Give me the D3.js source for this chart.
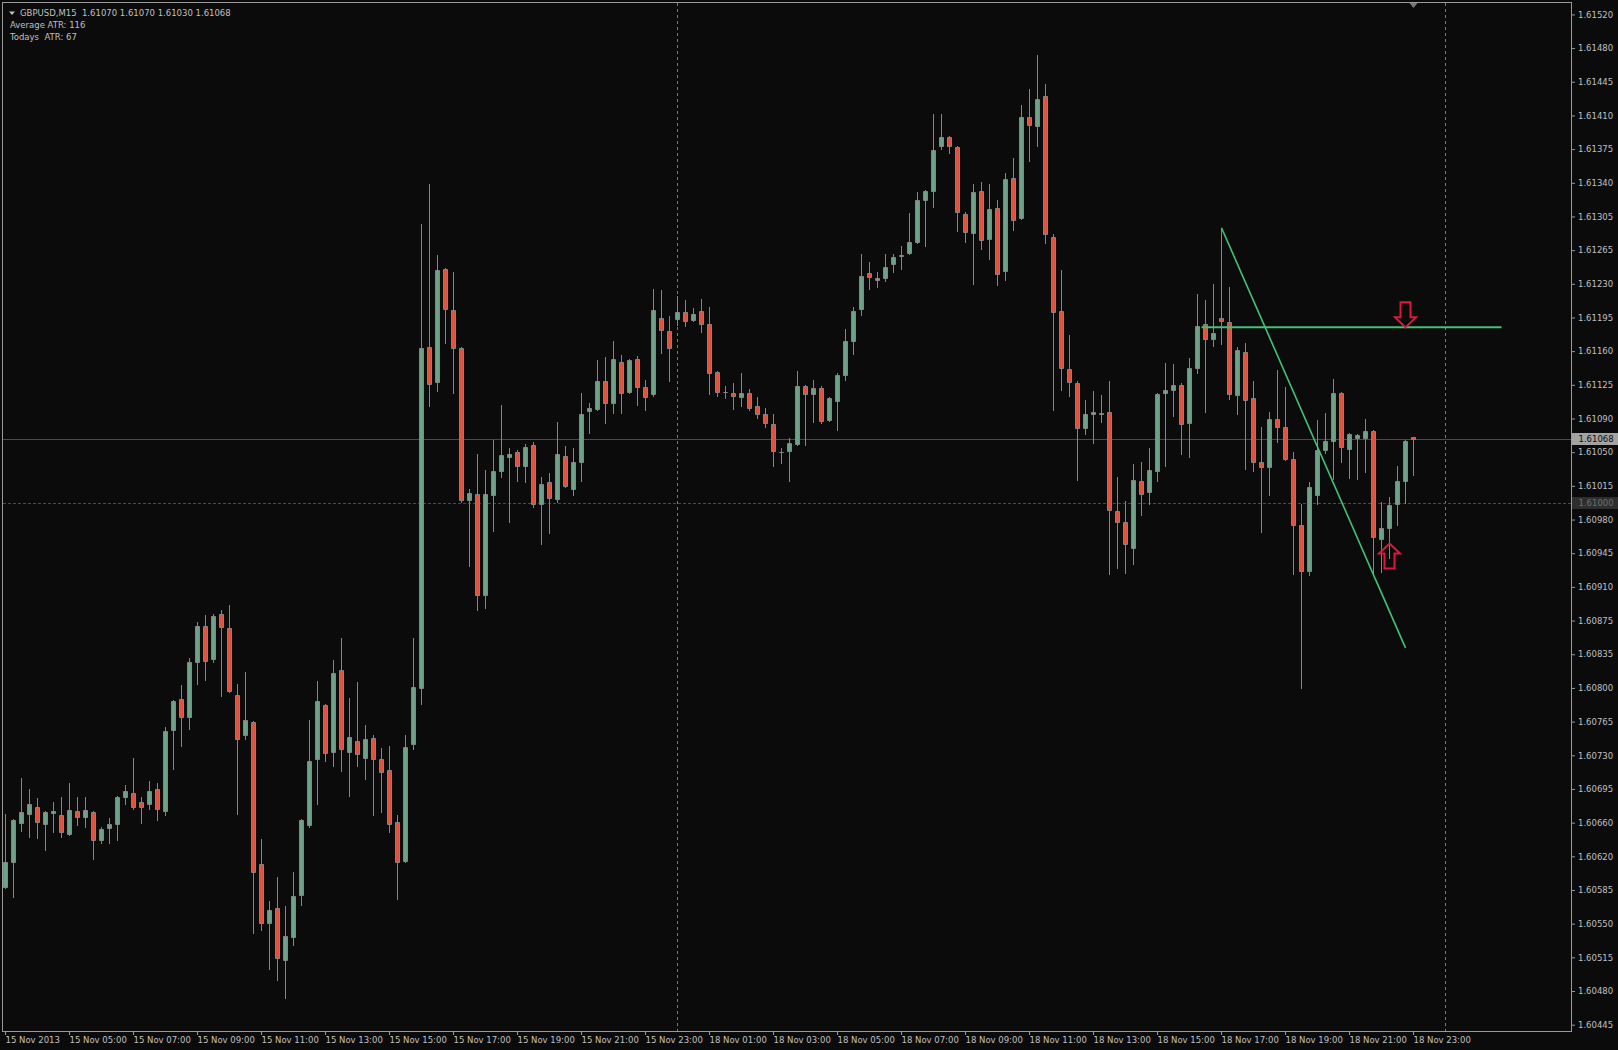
<!DOCTYPE html>
<html>
<head>
<meta charset="utf-8">
<script src="https://cdn.jsdelivr.net/npm/d3@7"></script>
<style>
  html, body { margin: 0; padding: 0; background: #0b0b0b; }
  svg { display: block; }
  text { font-family: "DejaVu Sans", sans-serif; font-size: 8.5px; fill: #c0c0c0; }
</style>
</head>
<body>
<div id="chart"></div>
<script>
/**
 * DATA
 * GBPUSD M15 bars, 15 Nov 2013 03:00 -> 18 Nov 2013 23:00 (weekend skipped)
 * */
const symbol = "GBPUSD,M15";

const open = [
  1.60592,1.60618,1.60660,1.60669,1.60677,1.60659,1.60670,1.60668,1.60648,1.60672,
  1.60666,1.60671,1.60641,1.60654,1.60659,1.60687,1.60692,1.60682,1.60680,1.60696,
  1.60672,1.60759,1.60792,1.60772,1.60831,1.60869,1.60834,1.60882,1.60867,1.60796,
  1.60753,1.60767,1.60616,1.60553,1.60569,1.60514,1.60538,1.60583,1.60657,1.60728,
  1.60785,1.60735,1.60822,1.60735,1.60747,1.60729,1.60750,1.60728,1.60716,1.60661,
  1.60619,1.60744,1.60803,1.61166,1.61129,1.61249,1.61206,1.61165,1.61003,1.61010,
  1.60902,1.61009,1.61034,1.61049,1.61054,1.61040,1.61062,1.60999,1.61022,1.61004,
  1.61050,1.61015,1.61044,1.61098,1.61100,1.61130,1.61106,1.61150,1.61118,1.61153,
  1.61124,1.61116,1.61197,1.61183,1.61196,1.61203,1.61195,1.61204,1.61191,1.61140,
  1.61118,1.61117,1.61113,1.61117,1.61103,1.61095,1.61084,1.61054,1.61055,1.61063,
  1.61125,1.61116,1.61123,1.61088,1.61109,1.61136,1.61173,1.61207,1.61245,1.61237,
  1.61240,1.61254,1.61263,1.61266,1.61278,1.61323,1.61332,1.61380,1.61390,1.61379,
  1.61308,1.61287,1.61332,1.61281,1.61314,1.61247,1.61346,1.61303,1.61411,1.61401,
  1.61433,1.61283,1.61204,1.61143,1.61128,1.61080,1.61095,1.61096,1.61097,1.60992,
  1.60980,1.60952,1.61024,1.61012,1.61034,1.61117,1.61120,1.61126,1.61085,1.61144,
  1.61191,1.61175,1.61197,1.61193,1.61115,1.61161,1.61112,1.61044,1.61038,1.61090,
  1.61081,1.61047,1.60977,1.60928,1.61009,1.61056,1.61066,1.61117,1.61058,1.61069,
  1.61069,1.61077,1.60962,1.60974,1.60999,1.61024,1.61070
];
const high = [
  1.60669,1.60664,1.60707,1.60696,1.60686,1.60672,1.60682,1.60687,1.60702,1.60687,
  1.60687,1.60672,1.60655,1.60665,1.60688,1.60700,1.60729,1.60687,1.60704,1.60702,
  1.60762,1.60790,1.60806,1.60835,1.60874,1.60881,1.60882,1.60886,1.60892,1.60808,
  1.60820,1.60768,1.60643,1.60577,1.60602,1.60571,1.60608,1.60664,1.60769,1.60811,
  1.60786,1.60833,1.60856,1.60793,1.60810,1.60764,1.60753,1.60739,1.60742,1.60668,
  1.60753,1.60856,1.61297,1.61340,1.61264,1.61250,1.61246,1.61166,1.61015,1.61052,
  1.61035,1.61067,1.61104,1.61059,1.61057,1.61063,1.61065,1.61028,1.61032,1.61086,
  1.61061,1.61059,1.61117,1.61107,1.61152,1.61155,1.61172,1.61158,1.61153,1.61157,
  1.61131,1.61228,1.61227,1.61199,1.61220,1.61216,1.61208,1.61217,1.61209,1.61141,
  1.61125,1.61128,1.61138,1.61121,1.61113,1.61101,1.61095,1.61059,1.61069,1.61141,
  1.61126,1.61131,1.61125,1.61113,1.61138,1.61185,1.61209,1.61265,1.61257,1.61246,
  1.61265,1.61265,1.61274,1.61309,1.61331,1.61333,1.61414,1.61414,1.61391,1.61380,
  1.61310,1.61340,1.61342,1.61340,1.61323,1.61351,1.61367,1.61424,1.61441,1.61477,
  1.61446,1.61286,1.61248,1.61179,1.61130,1.61110,1.61119,1.61115,1.61130,1.61028,
  1.61002,1.61042,1.61044,1.61059,1.61117,1.61149,1.61148,1.61128,1.61154,1.61223,
  1.61216,1.61233,1.61293,1.61230,1.61166,1.61170,1.61130,1.61081,1.61097,1.61142,
  1.61124,1.61054,1.60999,1.61022,1.61088,1.61096,1.61132,1.61118,1.61075,1.61074,
  1.61090,1.61078,1.61001,1.61007,1.61040,1.61067,1.61070
];
const low = [
  1.60590,1.60581,1.60651,1.60645,1.60644,1.60631,1.60650,1.60645,1.60647,1.60658,
  1.60655,1.60621,1.60638,1.60638,1.60642,1.60680,1.60675,1.60660,1.60674,1.60663,
  1.60668,1.60717,1.60742,1.60760,1.60807,1.60812,1.60831,1.60795,1.60799,1.60669,
  1.60749,1.60543,1.60546,1.60504,1.60493,1.60473,1.60530,1.60572,1.60655,1.60680,
  1.60726,1.60720,1.60715,1.60688,1.60720,1.60706,1.60668,1.60671,1.60650,1.60579,
  1.60618,1.60738,1.60786,1.61103,1.61119,1.61170,1.61117,1.61001,1.60933,1.60886,
  1.60888,1.60970,1.61028,1.60980,1.61024,1.61022,1.60996,1.60957,1.60968,1.61001,
  1.61017,1.61009,1.61023,1.61075,1.61099,1.61085,1.61096,1.61096,1.61117,1.61104,
  1.61099,1.61114,1.61160,1.61130,1.61190,1.61188,1.61194,1.61182,1.61116,1.61114,
  1.61112,1.61100,1.61103,1.61099,1.61091,1.61081,1.61039,1.61043,1.61024,1.61062,
  1.61062,1.61086,1.61085,1.61087,1.61078,1.61131,1.61159,1.61200,1.61228,1.61230,
  1.61236,1.61246,1.61249,1.61265,1.61277,1.61274,1.61315,1.61377,1.61373,1.61290,
  1.61278,1.61233,1.61270,1.61260,1.61232,1.61237,1.61291,1.61302,1.61364,1.61380,
  1.61277,1.61099,1.61120,1.61114,1.61025,1.61074,1.61064,1.61086,1.60925,1.60931,
  1.60926,1.60935,1.60987,1.60999,1.61024,1.61039,1.61093,1.61052,1.61049,1.61138,
  1.61097,1.61167,1.61169,1.61111,1.61095,1.61036,1.61034,1.60969,1.61009,1.61065,
  1.61046,1.60925,1.60803,1.60924,1.60999,1.61053,1.61026,1.61044,1.61027,1.61026,
  1.61033,1.60923,1.60927,1.60942,1.60977,1.61000,1.61030
];
const close = [
  1.60618,1.60663,1.60671,1.60680,1.60661,1.60671,1.60672,1.60650,1.60673,1.60666,
  1.60673,1.60642,1.60653,1.60659,1.60687,1.60694,1.60677,1.60677,1.60694,1.60674,
  1.60757,1.60789,1.60772,1.60831,1.60869,1.60832,1.60880,1.60868,1.60800,1.60749,
  1.60769,1.60608,1.60553,1.60567,1.60516,1.60539,1.60582,1.60663,1.60726,1.60789,
  1.60734,1.60819,1.60738,1.60751,1.60733,1.60749,1.60728,1.60714,1.60659,1.60618,
  1.60740,1.60804,1.61165,1.61127,1.61248,1.61207,1.61165,1.61003,1.61011,1.60902,
  1.61010,1.61034,1.61051,1.61052,1.61040,1.61060,1.60999,1.61020,1.61005,1.61052,
  1.61018,1.61044,1.61095,1.61101,1.61130,1.61106,1.61153,1.61117,1.61152,1.61124,
  1.61113,1.61206,1.61184,1.61165,1.61203,1.61194,1.61201,1.61191,1.61138,1.61118,
  1.61118,1.61114,1.61117,1.61101,1.61095,1.61085,1.61055,1.61054,1.61064,1.61125,
  1.61116,1.61123,1.61087,1.61112,1.61136,1.61173,1.61204,1.61242,1.61241,1.61240,
  1.61251,1.61262,1.61264,1.61278,1.61322,1.61332,1.61376,1.61390,1.61380,1.61310,
  1.61288,1.61331,1.61280,1.61313,1.61244,1.61345,1.61301,1.61411,1.61402,1.61430,
  1.61286,1.61203,1.61144,1.61129,1.61080,1.61095,1.61097,1.61095,1.60993,1.60980,
  1.60956,1.61025,1.61010,1.61035,1.61116,1.61120,1.61126,1.61084,1.61144,1.61188,
  1.61175,1.61181,1.61194,1.61116,1.61163,1.61110,1.61044,1.61038,1.61090,1.61081,
  1.61047,1.60977,1.60928,1.61017,1.61056,1.61066,1.61117,1.61060,1.61074,1.61072,
  1.61077,1.60964,1.60974,1.60998,1.61024,1.61066,1.61068
];

// price scale labels (top -> bottom), evenly spaced on the axis
const priceLabels = [
  "1.61520","1.61480","1.61445","1.61410","1.61375","1.61340","1.61305","1.61265",
  "1.61230","1.61195","1.61160","1.61125","1.61090","1.61050","1.61015","1.60980",
  "1.60945","1.60910","1.60875","1.60835","1.60800","1.60765","1.60730","1.60695",
  "1.60660","1.60620","1.60585","1.60550","1.60515","1.60480","1.60445"
];
// time labels, one every 8 bars
const timeLabels = [
  "15 Nov 2013","15 Nov 05:00","15 Nov 07:00","15 Nov 09:00","15 Nov 11:00",
  "15 Nov 13:00","15 Nov 15:00","15 Nov 17:00","15 Nov 19:00","15 Nov 21:00",
  "15 Nov 23:00","18 Nov 01:00","18 Nov 03:00","18 Nov 05:00","18 Nov 07:00",
  "18 Nov 09:00","18 Nov 11:00","18 Nov 13:00","18 Nov 15:00","18 Nov 17:00",
  "18 Nov 19:00","18 Nov 21:00","18 Nov 23:00"
];
const labelStep = 8;

const separatorBars = [84, 180];           // day separators (18 Nov, 19 Nov)
const levelPrice = 1.61000;                // dashed horizontal level
const trendBars = [152, 175];
const trendPrices = [1.61293, 1.60846];
const hlineBars = [149.5, 187];
const hlinePrice = 1.61187;
const arrowBars = [175, 173];
const arrowPrices = [1.61187, 1.60957];
const arrowDirs = ["down", "up"];
const atrLines = ["Average ATR: 116", "Todays  ATR: 67"];

/**
 * CONSTANTS
 * */
const width = 1618, height = 1050;
const plot = { left: 3, right: 1571, top: 3, bottom: 1031 };
const bull = "#6fa088", bear = "#dc5440", wickColor = "#858585";
const lineGreen = "#42c276";

const bars = open.map((o, i) => ({ i, o, h: high[i], l: low[i], c: close[i] }));
const last = bars[bars.length - 1];

const x = d3.scaleLinear().domain([0, 1]).range([5.5, 13.5]);
const y = d3.scaleLinear().domain([1.61520, 1.60445]).range([14.4, 1024.7]);
const fmt = d3.format(".5f");

const svg = d3.select("#chart")
  .append("svg")
  .attr("width", width)
  .attr("height", height);

svg.append("rect")
  .attr("width", width).attr("height", height)
  .attr("fill", "#0b0b0b");

svg.append("clipPath").attr("id", "clip")
  .append("rect")
  .attr("x", plot.left).attr("y", plot.top)
  .attr("width", plot.right - plot.left).attr("height", plot.bottom - plot.top);

const g = svg.append("g").attr("clip-path", "url(#clip)");

// day separators
g.selectAll(".sep")
  .data(separatorBars)
  .join("line")
  .attr("class", "sep")
  .attr("x1", d => x(d)).attr("x2", d => x(d))
  .attr("y1", plot.top).attr("y2", plot.bottom)
  .attr("stroke", "#7a7a7a")
  .attr("stroke-dasharray", "3,3");

// level line + bid line
g.append("line")
  .attr("x1", plot.left).attr("x2", plot.right)
  .attr("y1", Math.round(y(levelPrice)) + 0.5).attr("y2", Math.round(y(levelPrice)) + 0.5)
  .attr("stroke", "#4a4a4a")
  .attr("stroke-dasharray", "3,2");

g.append("line")
  .attr("x1", plot.left).attr("x2", plot.right)
  .attr("y1", Math.round(y(last.c)) + 0.5).attr("y2", Math.round(y(last.c)) + 0.5)
  .attr("stroke", "#4c4c4c");

// candles: wicks then bodies
g.selectAll(".wick")
  .data(bars)
  .join("line")
  .attr("class", "wick")
  .attr("x1", d => x(d.i)).attr("x2", d => x(d.i))
  .attr("y1", d => Math.round(y(d.h)))
  .attr("y2", d => Math.round(y(d.l)) + 1)
  .attr("stroke", wickColor);

g.selectAll(".body")
  .data(bars)
  .join("path")
  .attr("class", "body")
  .attr("d", d => {
    const cx = x(d.i);
    const t = Math.round(y(Math.max(d.o, d.c))) + 0.5;
    const b = Math.round(y(Math.min(d.o, d.c))) + 0.5;
    return `M${cx - 2},${t}H${cx + 2}V${b}H${cx - 2}Z`;
  })
  .attr("fill", d => (d.c >= d.o ? bull : bear))
  .attr("stroke", wickColor);

// trend lines
g.append("line")
  .attr("x1", x(trendBars[0])).attr("y1", y(trendPrices[0]))
  .attr("x2", x(trendBars[1])).attr("y2", y(trendPrices[1]))
  .attr("stroke", lineGreen)
  .attr("stroke-width", 1.6);

g.append("line")
  .attr("x1", x(hlineBars[0])).attr("x2", x(hlineBars[1]))
  .attr("y1", y(hlinePrice)).attr("y2", y(hlinePrice))
  .attr("stroke", lineGreen)
  .attr("stroke-width", 2);

// arrows
g.selectAll(".arrow")
  .data(arrowBars.map((b, i) => ({ b, p: arrowPrices[i], dir: arrowDirs[i] })))
  .join("path")
  .attr("class", "arrow")
  .attr("d", d => {
    const ax = x(d.b), ay = y(d.p), s = d.dir === "down" ? -1 : 1;
    return `M${ax},${ay}L${ax + 10.5},${ay + s * 10}L${ax + 5},${ay + s * 10}` +
      `L${ax + 5},${ay + s * 25}L${ax - 5},${ay + s * 25}L${ax - 5},${ay + s * 10}` +
      `L${ax - 10.5},${ay + s * 10}Z`;
  })
  .attr("fill", "none")
  .attr("stroke", "#e0173c")
  .attr("stroke-width", 2)
  .attr("stroke-linejoin", "miter");

// frame
svg.append("rect")
  .attr("x", plot.left - 0.5).attr("y", plot.top - 0.5)
  .attr("width", plot.right - plot.left + 1).attr("height", plot.bottom - plot.top + 1)
  .attr("fill", "none")
  .attr("stroke", "#9a9a9a");

// chart shift marker
svg.append("path")
  .attr("d", `M${x(last.i) - 4},${plot.top}L${x(last.i) + 4},${plot.top}L${x(last.i)},${plot.top + 5}Z`)
  .attr("fill", "#7a7a7a");

// price axis
const tickPos = d3.scaleLinear()
  .domain([0, priceLabels.length - 1])
  .range([+priceLabels[0], +priceLabels[priceLabels.length - 1]]);
const tickPrices = priceLabels.map((d, i) => tickPos(i));

const yAxis = d3.axisRight(y)
  .tickValues(tickPrices)
  .tickFormat((d, i) => priceLabels[i])
  .tickSize(4)
  .tickPadding(3);

svg.append("g")
  .attr("transform", `translate(${plot.right},0)`)
  .call(yAxis)
  .call(a => a.select(".domain").remove())
  .call(a => a.selectAll("line").attr("stroke", "#9a9a9a"))
  .call(a => a.selectAll("text").attr("fill", "#c0c0c0").attr("font-size", null).attr("font-family", null));

// time axis
const xAxis = d3.axisBottom(x.copy().range([5, 13]))
  .tickValues(timeLabels.map((d, i) => i * labelStep))
  .tickFormat((d, i) => timeLabels[i])
  .tickSize(4)
  .tickPadding(2);

svg.append("g")
  .attr("transform", `translate(0,${plot.bottom})`)
  .call(xAxis)
  .call(a => a.select(".domain").remove())
  .call(a => a.selectAll("line").attr("stroke", "#9a9a9a"))
  .call(a => a.selectAll("text")
    .attr("text-anchor", "start")
    .attr("x", 0)
    .attr("fill", "#c0c0c0").attr("font-size", null).attr("font-family", null));

// price boxes on the axis
const boxes = [
  { p: levelPrice, bg: "#2e2e2e", fg: "#707070" },
  { p: last.c, bg: "#a3a3a3", fg: "#0b0b0b" },
];
const box = svg.selectAll(".pbox")
  .data(boxes)
  .join("g")
  .attr("class", "pbox")
  .attr("transform", d => `translate(${plot.right + 1},${Math.round(y(d.p))})`);
box.append("rect")
  .attr("x", 0).attr("y", -6)
  .attr("width", width - plot.right - 1).attr("height", 12)
  .attr("fill", d => d.bg);
box.append("text")
  .attr("x", 6.5).attr("dy", "0.34em")
  .style("fill", d => d.fg)
  .text(d => fmt(d.p));

// header
svg.append("path")
  .attr("d", "M9,11.5L15,11.5L12,15Z")
  .attr("fill", "#c0c0c0");

svg.append("text")
  .attr("x", 20).attr("y", 16)
  .style("white-space", "pre")
  .text(`${symbol}  ${fmt(last.o)} ${fmt(last.h)} ${fmt(last.l)} ${fmt(last.c)}`);

svg.selectAll(".atr")
  .data(atrLines)
  .join("text")
  .attr("class", "atr")
  .attr("x", 10)
  .attr("y", (d, i) => 28 + i * 12)
  .style("white-space", "pre")
  .text(d => d);
</script>
</body>
</html>
